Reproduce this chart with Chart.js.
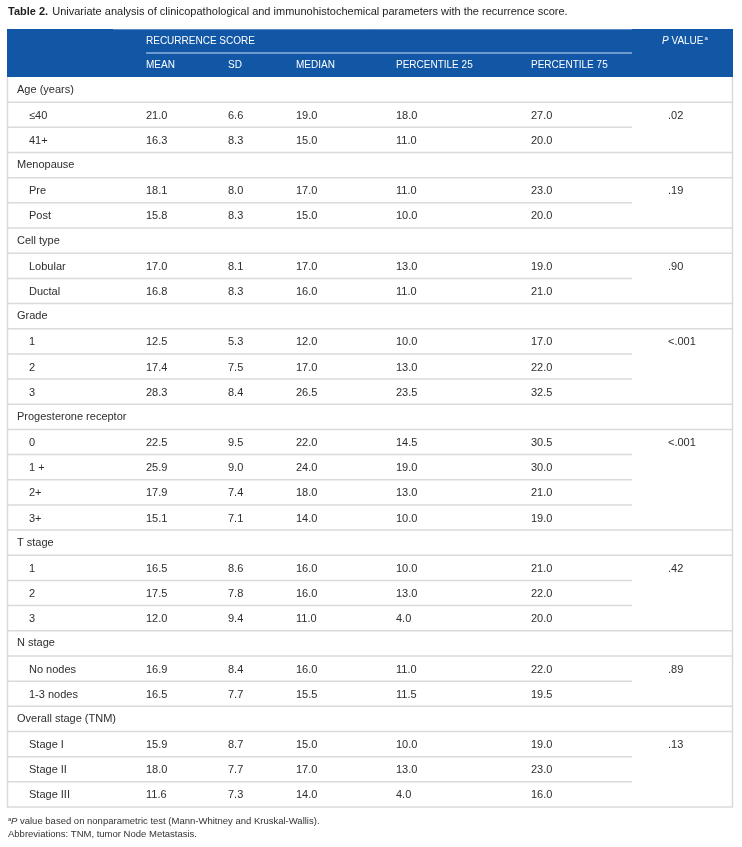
<!DOCTYPE html>
<html>
<head>
<meta charset="utf-8">
<script src="https://cdn.jsdelivr.net/npm/chart.js@4.4.0/dist/chart.umd.min.js"></script>
<style>
  html, body { margin: 0; padding: 0; background: #fff; }
</style>
</head>
<body>
<canvas id="myChart" width="742" height="847"></canvas>
<script>
const ctx = document.getElementById("myChart").getContext("2d");

// table content
const title = "Univariate analysis of clinicopathological and immunohistochemical parameters with the recurrence score.";
const spanHeader = "RECURRENCE SCORE";
const colHeaders = ["MEAN", "SD", "MEDIAN", "PERCENTILE 25", "PERCENTILE 75"];

const groups = [
  "Age (years)",
  "Menopause",
  "Cell type",
  "Grade",
  "Progesterone receptor",
  "T stage",
  "N stage",
  "Overall stage (TNM)",
];
const subgroups = [
  ["≤40", "41+"],
  ["Pre", "Post"],
  ["Lobular", "Ductal"],
  ["1", "2", "3"],
  ["0", "1 +", "2+", "3+"],
  ["1", "2", "3"],
  ["No nodes", "1-3 nodes"],
  ["Stage I", "Stage II", "Stage III"],
];

// one value per sub-row, top to bottom
const mean = [21.0, 16.3, 18.1, 15.8, 17.0, 16.8, 12.5, 17.4, 28.3, 22.5, 25.9, 17.9, 15.1, 16.5, 17.5, 12.0, 16.9, 16.5, 15.9, 18.0, 11.6];
const sd = [6.6, 8.3, 8.0, 8.3, 8.1, 8.3, 5.3, 7.5, 8.4, 9.5, 9.0, 7.4, 7.1, 8.6, 7.8, 9.4, 8.4, 7.7, 8.7, 7.7, 7.3];
const median = [19.0, 15.0, 17.0, 15.0, 17.0, 16.0, 12.0, 17.0, 26.5, 22.0, 24.0, 18.0, 14.0, 16.0, 16.0, 11.0, 16.0, 15.5, 15.0, 17.0, 14.0];
const p25 = [18.0, 11.0, 11.0, 10.0, 13.0, 11.0, 10.0, 13.0, 23.5, 14.5, 19.0, 13.0, 10.0, 10.0, 13.0, 4.0, 11.0, 11.5, 10.0, 13.0, 4.0];
const p75 = [27.0, 20.0, 23.0, 20.0, 19.0, 21.0, 17.0, 22.0, 32.5, 30.5, 30.0, 21.0, 19.0, 21.0, 22.0, 20.0, 22.0, 19.5, 19.0, 23.0, 16.0];
// one p value per group
const pValues = [".02", ".19", ".90", "<.001", "<.001", ".42", ".89", ".13"];

// layout (x in table units, 0 = left border)
const COL_X = { group: 10, sub: 22, mean: 139, sd: 221, median: 289, p25: 389, p75: 524, p: 661, partialEnd: 625 };
const BLUE = "#1257a6";
const TEXT = "#2e2e2e";
const RULE = "#dadada";
const FONT = "'Liberation Sans', Arial, Helvetica, sans-serif";

// rows of the body
const rows = [];
groups.forEach((g, gi) => {
  rows.push({ label: g, head: true, group: gi });
  subgroups[gi].forEach((s) => rows.push({ label: s, head: false, group: gi }));
});
const dataRows = rows.map((r, i) => (r.head ? -1 : i)).filter((i) => i >= 0);
const firstRowOfGroup = groups.map((g, gi) => rows.findIndex((r) => r.group === gi && !r.head));

const statCols = [
  { key: "mean", values: mean },
  { key: "sd", values: sd },
  { key: "median", values: median },
  { key: "p25", values: p25 },
  { key: "p75", values: p75 },
];

const datasets = statCols.map((c) => ({
  label: c.key,
  data: c.values.map((v, k) => ({ x: COL_X[c.key], y: dataRows[k], text: v.toFixed(1) })),
}));
datasets.push({
  label: "p",
  data: pValues.map((p, gi) => ({ x: COL_X.p, y: firstRowOfGroup[gi], text: p })),
});

function font(size, style) {
  return (style || "") + " " + size + "px " + FONT;
}

const tablePlugin = {
  id: "tablePlugin",
  afterDraw(chart) {
    const c = chart.ctx;
    const xs = chart.scales.x;
    const ys = chart.scales.y;
    const area = chart.chartArea;
    const left = area.left;
    const right = area.right;
    const rowH = Math.abs(ys.getPixelForValue(1) - ys.getPixelForValue(0));
    const px = (u) => xs.getPixelForValue(u);

    c.save();
    c.textBaseline = "middle";

    // title
    c.fillStyle = "#1e1e1e";
    c.font = font(11, "bold");
    c.fillText("Table 2.", 8, 12);
    const tw = c.measureText("Table 2.").width;
    c.font = font(11);
    c.fillText(" " + title, 8 + tw + 1, 12);

    // header block
    const hTop = area.top - 48;
    c.fillStyle = BLUE;
    c.fillRect(left, hTop, right - left, area.top - hTop);
    c.strokeStyle = "#5a8bc8";
    c.lineWidth = 1;
    c.beginPath();
    c.moveTo(px(106), hTop + 0.5);
    c.lineTo(px(COL_X.partialEnd), hTop + 0.5);
    c.stroke();
    c.strokeStyle = "#8fb0dc";
    c.lineWidth = 1.5;
    c.beginPath();
    c.moveTo(px(COL_X.mean), hTop + 24);
    c.lineTo(px(COL_X.partialEnd), hTop + 24);
    c.stroke();

    c.fillStyle = "#ffffff";
    c.font = font(10);
    c.fillText(spanHeader, px(COL_X.mean), hTop + 12);
    const keys = ["mean", "sd", "median", "p25", "p75"];
    colHeaders.forEach((h, i) => c.fillText(h, px(COL_X[keys[i]]), hTop + 36));
    c.font = font(10, "italic");
    c.fillText("P", px(COL_X.p) - 6, hTop + 12);
    const pw = c.measureText("P").width;
    c.font = font(10);
    c.fillText(" VALUE", px(COL_X.p) - 6 + pw, hTop + 12);
    const vw = c.measureText(" VALUE").width;
    c.font = font(6);
    c.fillText("a", px(COL_X.p) - 6 + pw + vw + 1, hTop + 9);

    // rules between rows
    c.strokeStyle = RULE;
    c.lineWidth = 1.5;
    for (let i = 1; i < rows.length; i++) {
      const y = (ys.getPixelForValue(i - 1) + ys.getPixelForValue(i)) / 2;
      const full = rows[i].head || rows[i - 1].head;
      c.beginPath();
      c.moveTo(left, y);
      c.lineTo(full ? right : px(COL_X.partialEnd), y);
      c.stroke();
    }
    // outer border of the body
    c.beginPath();
    c.moveTo(left + 0.5, area.top);
    c.lineTo(left + 0.5, area.bottom);
    c.lineTo(right - 0.5, area.bottom);
    c.lineTo(right - 0.5, area.top);
    c.stroke();

    // row labels
    c.fillStyle = TEXT;
    c.font = font(11);
    rows.forEach((r, i) => {
      const y = ys.getPixelForValue(i) + (r.head ? 0 : 1);
      c.fillText(r.label, px(r.head ? COL_X.group : COL_X.sub), y);
    });

    // cell values, placed at the scatter points
    chart.data.datasets.forEach((ds, d) => {
      const meta = chart.getDatasetMeta(d);
      meta.data.forEach((el, i) => {
        c.fillText(ds.data[i].text, el.x, el.y + 1);
      });
    });

    // footnotes
    const fy = area.bottom + 14;
    c.fillStyle = "#333";
    c.font = font(6);
    c.fillText("a", 8, fy - 2);
    c.font = font(9.5, "italic");
    c.fillText("P", 11, fy);
    const fpw = c.measureText("P").width;
    c.font = font(9.5);
    c.fillText(" value based on nonparametric test (Mann-Whitney and Kruskal-Wallis).", 11 + fpw, fy);
    c.fillText("Abbreviations: TNM, tumor Node Metastasis.", 8, fy + 13);

    c.restore();
  },
};

const config = {
  type: "scatter",
  data: { datasets: datasets },
  options: {
    responsive: false,
    animation: false,
    events: [],
    layout: { padding: { top: 77, left: 7, right: 9, bottom: 40 } },
    elements: { point: { radius: 0, hoverRadius: 0 } },
    plugins: { legend: { display: false }, tooltip: { enabled: false } },
    scales: {
      x: { type: "linear", min: 0, max: 726, display: false },
      y: { type: "linear", min: -0.5, max: rows.length - 0.5, reverse: true, display: false },
    },
  },
  plugins: [tablePlugin],
};

const myChart = new Chart(ctx, config);
</script>
</body>
</html>
